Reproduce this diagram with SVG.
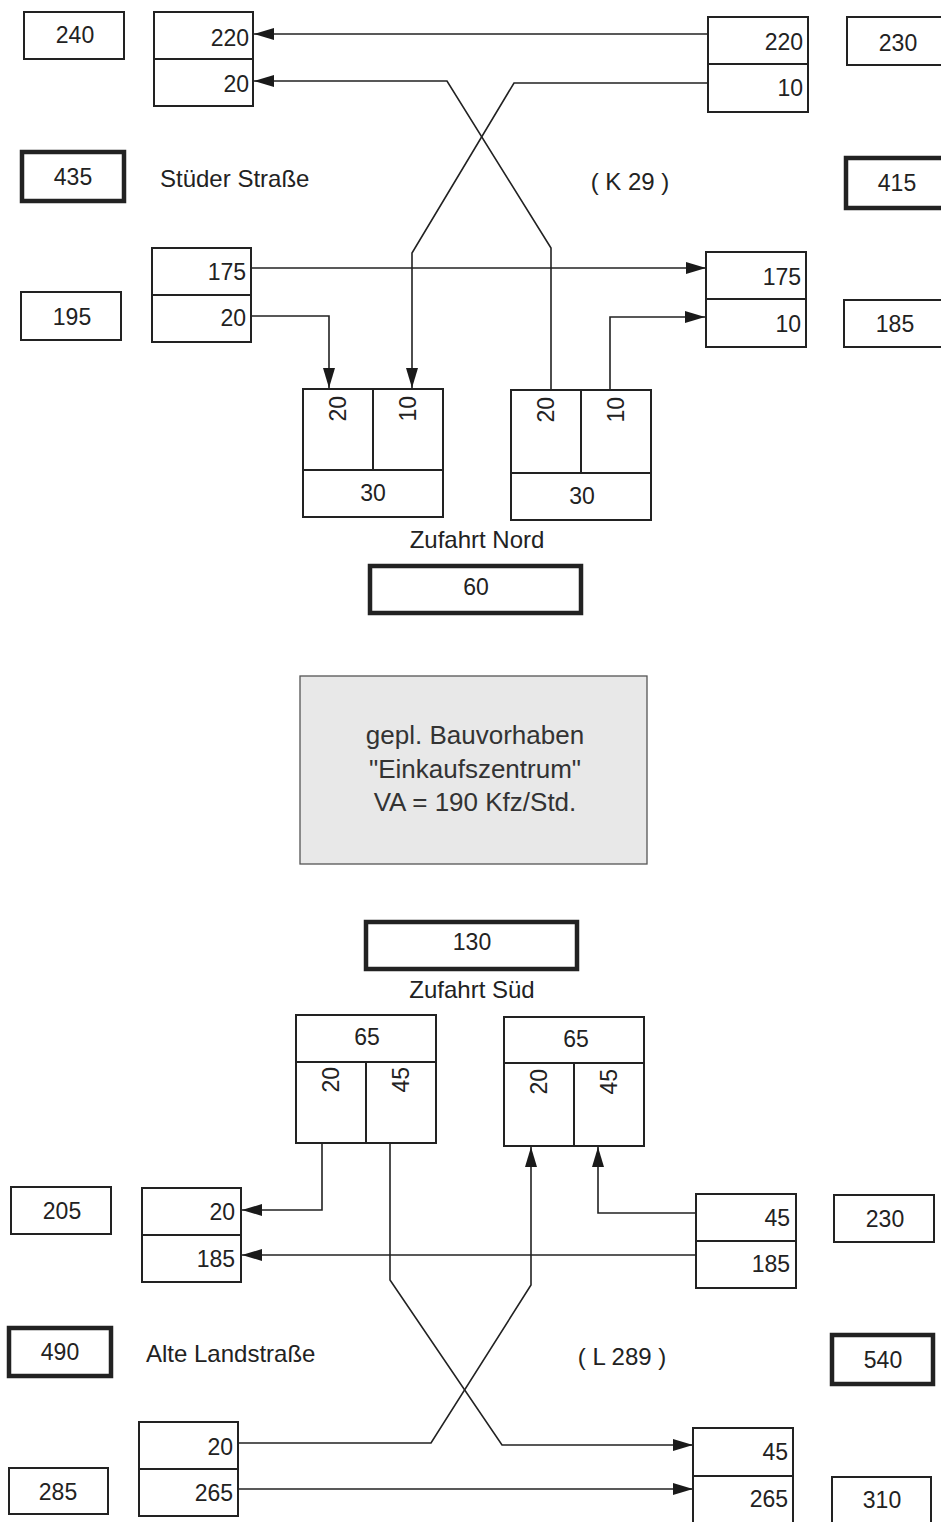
<svg xmlns="http://www.w3.org/2000/svg" width="941" height="1522" viewBox="0 0 941 1522">
<style>
.b{fill:#fff;stroke:#222;stroke-width:2}
.k{fill:#fff;stroke:#222;stroke-width:4.5}
.d{stroke:#222;stroke-width:2;fill:none}
.t{font-family:"Liberation Sans",Arial,sans-serif;font-size:23px;fill:#222}
.l{font-family:"Liberation Sans",Arial,sans-serif;font-size:24px;fill:#222}
.c{text-anchor:middle}
.r{text-anchor:end}
.cn{fill:none;stroke:#222;stroke-width:1.6}
</style>
<defs>
<marker id="ah" markerUnits="userSpaceOnUse" markerWidth="20" markerHeight="12" refX="20" refY="6" orient="auto" viewBox="0 0 20 12">
<path d="M0,0 L20,6 L0,12 z" fill="#1a1a1a"/>
</marker>
</defs>
<rect width="941" height="1522" fill="#fff"/>

<g id="connectors">
<path class="cn" d="M708,34 H254" marker-end="url(#ah)"/>
<path class="cn" d="M708,83 H514 L412,253 V388" marker-end="url(#ah)"/>
<path class="cn" d="M551,390 V248 L447,81 H254" marker-end="url(#ah)"/>
<path class="cn" d="M252,268 H706" marker-end="url(#ah)"/>
<path class="cn" d="M252,316 H329 V388" marker-end="url(#ah)"/>
<path class="cn" d="M610,391 V317 H705" marker-end="url(#ah)"/>
<path class="cn" d="M322,1143 V1210 H242" marker-end="url(#ah)"/>
<path class="cn" d="M696,1255 H242" marker-end="url(#ah)"/>
<path class="cn" d="M390,1143 V1280 L502,1445 H693" marker-end="url(#ah)"/>
<path class="cn" d="M238,1443 H431 L531,1285 V1147" marker-end="url(#ah)"/>
<path class="cn" d="M696,1213 H598 V1147" marker-end="url(#ah)"/>
<path class="cn" d="M238,1489 H693" marker-end="url(#ah)"/>
</g>

<!-- North section -->
<g id="n240"><rect class="b" x="24" y="12" width="100" height="47"/><text class="t c" x="75" y="43">240</text></g>
<g id="nw-out"><rect class="b" x="154" y="12" width="99" height="94"/><line class="d" x1="154" y1="59" x2="253" y2="59"/><text class="t r" x="249" y="46">220</text><text class="t r" x="249" y="92">20</text></g>
<g id="ne-in"><rect class="b" x="708" y="17" width="100" height="95"/><line class="d" x1="708" y1="64" x2="808" y2="64"/><text class="t r" x="803" y="50">220</text><text class="t r" x="803" y="96">10</text></g>
<g id="n230"><rect class="b" x="847" y="17" width="100" height="48"/><text class="t c" x="898" y="51">230</text></g>
<g id="n435"><rect class="k" x="22" y="152" width="102" height="49"/><text class="t c" x="73" y="185">435</text></g>
<text id="lbl-stueder" class="l" x="160" y="187">Stüder Straße</text>
<text id="lbl-k29" class="l c" x="630" y="190">( K 29 )</text>
<g id="n415"><rect class="k" x="846" y="158" width="100" height="50"/><text class="t c" x="897" y="191">415</text></g>
<g id="nw-in"><rect class="b" x="152" y="248" width="99" height="94"/><line class="d" x1="152" y1="295" x2="251" y2="295"/><text class="t r" x="246" y="280">175</text><text class="t r" x="246" y="326">20</text></g>
<g id="n195"><rect class="b" x="21" y="292" width="100" height="48"/><text class="t c" x="72" y="325">195</text></g>
<g id="ne-out"><rect class="b" x="706" y="252" width="100" height="95"/><line class="d" x1="706" y1="299" x2="806" y2="299"/><text class="t r" x="801" y="285">175</text><text class="t r" x="801" y="332">10</text></g>
<g id="n185"><rect class="b" x="844" y="300" width="100" height="47"/><text class="t c" x="895" y="332">185</text></g>
<g id="nord-in"><rect class="b" x="303" y="389" width="140" height="128"/><line class="d" x1="373" y1="389" x2="373" y2="470"/><line class="d" x1="303" y1="470" x2="443" y2="470"/>
<text class="t r" transform="translate(346,396) rotate(-90)">20</text><text class="t r" transform="translate(416,396) rotate(-90)">10</text><text class="t c" x="373" y="501">30</text></g>
<g id="nord-out"><rect class="b" x="511" y="390" width="140" height="130"/><line class="d" x1="581" y1="390" x2="581" y2="473"/><line class="d" x1="511" y1="473" x2="651" y2="473"/>
<text class="t r" transform="translate(554,397) rotate(-90)">20</text><text class="t r" transform="translate(624,397) rotate(-90)">10</text><text class="t c" x="582" y="504">30</text></g>
<text id="lbl-nord" class="l c" x="477" y="548">Zufahrt Nord</text>
<g id="n60"><rect class="k" x="370" y="566" width="211" height="47"/><text class="t c" x="476" y="595">60</text></g>

<g id="project"><rect x="300" y="676" width="347" height="188" fill="#e8e8e8" stroke="#555" stroke-width="1.3"/>
<text class="c" font-family="Liberation Sans, Arial, sans-serif" font-size="26" fill="#333" x="475" y="744">gepl. Bauvorhaben</text>
<text class="c" font-family="Liberation Sans, Arial, sans-serif" font-size="26" fill="#333" x="475" y="778">"Einkaufszentrum"</text>
<text class="c" font-family="Liberation Sans, Arial, sans-serif" font-size="26" fill="#333" x="475" y="811">VA = 190 Kfz/Std.</text></g>

<!-- South section -->
<g id="n130"><rect class="k" x="366" y="922" width="211" height="47"/><text class="t c" x="472" y="950">130</text></g>
<text id="lbl-sued" class="l c" x="472" y="998">Zufahrt Süd</text>
<g id="sued-out"><rect class="b" x="296" y="1015" width="140" height="128"/><line class="d" x1="296" y1="1062" x2="436" y2="1062"/><line class="d" x1="366" y1="1062" x2="366" y2="1143"/>
<text class="t c" x="367" y="1045">65</text><text class="t r" transform="translate(339,1067) rotate(-90)">20</text><text class="t r" transform="translate(409,1067) rotate(-90)">45</text></g>
<g id="sued-in"><rect class="b" x="504" y="1017" width="140" height="129"/><line class="d" x1="504" y1="1063" x2="644" y2="1063"/><line class="d" x1="574" y1="1063" x2="574" y2="1146"/>
<text class="t c" x="576" y="1047">65</text><text class="t r" transform="translate(547,1069) rotate(-90)">20</text><text class="t r" transform="translate(617,1069) rotate(-90)">45</text></g>
<g id="s205"><rect class="b" x="11" y="1187" width="100" height="47"/><text class="t c" x="62" y="1219">205</text></g>
<g id="sw-out"><rect class="b" x="142" y="1188" width="99" height="94"/><line class="d" x1="142" y1="1235" x2="241" y2="1235"/><text class="t r" x="235" y="1220">20</text><text class="t r" x="235" y="1267">185</text></g>
<g id="se-in"><rect class="b" x="696" y="1194" width="100" height="94"/><line class="d" x1="696" y1="1241" x2="796" y2="1241"/><text class="t r" x="790" y="1226">45</text><text class="t r" x="790" y="1272">185</text></g>
<g id="s230"><rect class="b" x="834" y="1195" width="100" height="47"/><text class="t c" x="885" y="1227">230</text></g>
<g id="s490"><rect class="k" x="9" y="1328" width="102" height="48"/><text class="t c" x="60" y="1360">490</text></g>
<text id="lbl-alte" class="l" x="146" y="1362">Alte Landstraße</text>
<text id="lbl-l289" class="l c" x="622" y="1365">( L 289 )</text>
<g id="s540"><rect class="k" x="832" y="1335" width="101" height="49"/><text class="t c" x="883" y="1368">540</text></g>
<g id="sw-in"><rect class="b" x="139" y="1422" width="99" height="94"/><line class="d" x1="139" y1="1469" x2="238" y2="1469"/><text class="t r" x="233" y="1455">20</text><text class="t r" x="233" y="1501">265</text></g>
<g id="s285"><rect class="b" x="9" y="1468" width="99" height="46"/><text class="t c" x="58" y="1500">285</text></g>
<g id="se-out"><rect class="b" x="693" y="1428" width="100" height="96"/><line class="d" x1="693" y1="1476" x2="793" y2="1476"/><text class="t r" x="788" y="1460">45</text><text class="t r" x="788" y="1507">265</text></g>
<g id="s310"><rect class="b" x="832" y="1477" width="99" height="50"/><text class="t c" x="882" y="1508">310</text></g>
</svg>
